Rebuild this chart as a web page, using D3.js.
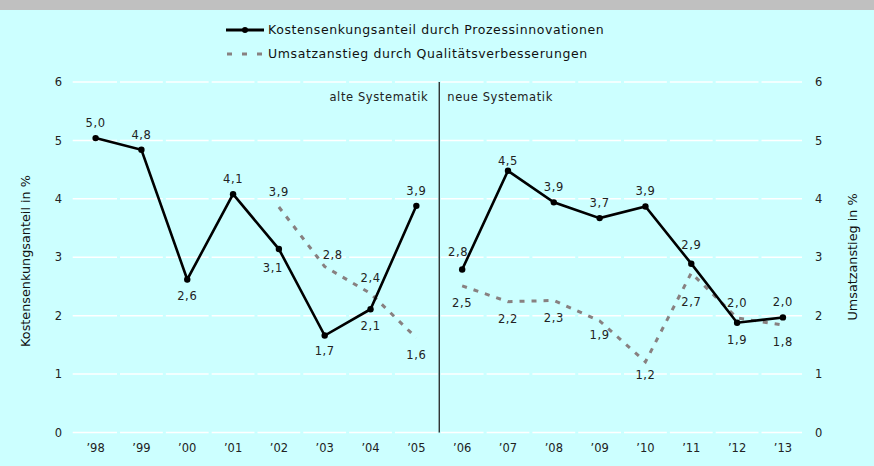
<!DOCTYPE html>
<html><head><meta charset="utf-8">
<script src="https://cdn.jsdelivr.net/npm/d3@7"></script>
<style>
body{margin:0;background:#CCFFFF;}
svg{display:block;font-family:"DejaVu Sans",Verdana,sans-serif;}
</style></head>
<body>
<svg id="chart" width="874" height="466"></svg>
<script>
const years = ["’98","’99","’00","’01","’02","’03","’04","’05","’06","’07","’08","’09","’10","’11","’12","’13"];
const kosten = [5.04,4.84,2.62,4.08,3.14,1.66,2.11,3.88,2.79,4.48,3.94,3.67,3.87,2.89,1.88,1.97];
const umsatz = [null,null,null,null,3.86,2.84,2.38,1.62,2.51,2.24,2.26,1.91,1.21,2.73,1.96,1.84];
const yTicks = [0,1,2,3,4,5,6];
const seriesNames = ["Kostensenkungsanteil durch Prozessinnovationen","Umsatzanstieg durch Qualitätsverbesserungen"];
const periodNames = ["alte Systematik","neue Systematik"];
const axisTitles = ["Kostensenkungsanteil in %","Umsatzanstieg in %"];

// label placement (a = above, b = below)
const kostenPos = ["a","a","b","a","b","b","b","a","a","a","a","a","a","a","b","a"];
const umsatzPos = [null,null,null,null,"a","a","a","b","b","b","b","b","b","b","a","b"];

const svg = d3.select("#chart");
svg.append("rect").attr("x",0).attr("y",0).attr("width",874).attr("height",466).attr("fill","#CCFFFF");
svg.append("rect").attr("x",0).attr("y",0).attr("width",874).attr("height",10).attr("fill","#C0C0C0");

const x = d3.scaleBand().domain(years).range([72.7, 72.7+16*45.82]).padding(0);
const cx = d => x(d) + x.bandwidth()/2;
const y = d3.scaleLinear().domain([0,6]).range([432.5, 82]);

// gridlines, segmented per category band
const g = svg.append("g");
yTicks.forEach(t => {
  years.forEach((yr,i) => {
    const x0 = x(yr) + (i===0 ? 0 : 1.5);
    const x1 = Math.min(x(yr) + x.bandwidth() - 1.5, 802);
    g.append("line").attr("x1",x0).attr("x2",x1).attr("y1",y(t)).attr("y2",y(t))
      .attr("stroke","#FFFFFF").attr("stroke-width",1.5);
  });
});

// axes
const tf = d3.format("d");
const yl = d3.axisLeft(y).tickValues(yTicks).tickFormat(tf).tickSize(0).tickPadding(0);
const gl = svg.append("g").attr("transform","translate(62,0)").call(yl);
gl.select(".domain").remove();
gl.selectAll("text").attr("font-size",11.5).attr("fill","#222").attr("font-family","DejaVu Sans");
const yr = d3.axisRight(y).tickValues(yTicks).tickFormat(tf).tickSize(0).tickPadding(0);
const gr = svg.append("g").attr("transform","translate(815,0)").call(yr);
gr.select(".domain").remove();
gr.selectAll("text").attr("font-size",11.5).attr("fill","#222").attr("font-family","DejaVu Sans");
const xa = d3.axisBottom(x).tickSize(0).tickPadding(0);
const gx = svg.append("g").attr("transform","translate(0,444)").call(xa);
gx.select(".domain").remove();
gx.selectAll("text").attr("font-size",11.5).attr("fill","#222").attr("font-family","DejaVu Sans").attr("dy","0.71em");

// axis titles
svg.append("text").attr("transform","translate(30,261) rotate(-90)").attr("text-anchor","middle")
  .attr("font-size",12.8).attr("fill","#111").text(axisTitles[0]);
svg.append("text").attr("transform","translate(857,257) rotate(-90)").attr("text-anchor","middle")
  .attr("font-size",12.8).attr("fill","#111").text(axisTitles[1]);

// separator
const sepX = (cx(years[7]) + cx(years[8]))/2;
svg.append("line").attr("x1",sepX).attr("x2",sepX).attr("y1",y(6)).attr("y2",y(0)).attr("stroke","#222").attr("stroke-width",1.3);
svg.append("text").attr("x",sepX-11).attr("y",101).attr("text-anchor","end").attr("font-size",11.5).attr("letter-spacing","0.6px").attr("fill","#222").text(periodNames[0]);
svg.append("text").attr("x",sepX+8).attr("y",101).attr("text-anchor","start").attr("font-size",11.5).attr("letter-spacing","0.6px").attr("fill","#222").text(periodNames[1]);

const fmt = v => d3.format(".1f")(v).replace(".",",");
const line = d3.line().x(d=>cx(d.yr)).y(d=>y(d.v));

// Umsatz dashed line (two segments: old / new methodology)
const uData = years.map((yrr,i)=>({yr:yrr,v:umsatz[i],p:umsatzPos[i],i:i})).filter(d=>d.v!==null);
[uData.filter(d=>d.i<8), uData.filter(d=>d.i>=8)].forEach(seg=>{
  svg.append("path").datum(seg).attr("d",line).attr("fill","none").attr("stroke","#888080")
    .attr("stroke-width",3).attr("stroke-dasharray","5,7");
});

// Kosten line
const kData = years.map((yrr,i)=>({yr:yrr,v:kosten[i],p:kostenPos[i]}));
[kData.slice(0,8), kData.slice(8)].forEach(seg=>{
  svg.append("path").datum(seg).attr("d",line).attr("fill","none").attr("stroke","#000")
    .attr("stroke-width",2.6).attr("stroke-linejoin","miter");
});
svg.selectAll("circle.k").data(kData).join("circle").attr("class","k")
  .attr("cx",d=>cx(d.yr)).attr("cy",d=>y(d.v)).attr("r",3.2).attr("fill","#000");

// labels
function addLabels(data, special){
  svg.selectAll(null).data(data).join("text")
    .attr("x",d=>cx(d.yr) + ((special[d.yr]||{}).dx||0))
    .attr("y",d=>y(d.v) + (d.p==="a" ? -15 : 17) + ((special[d.yr]||{}).dy||0))
    .attr("dy","0.35em").attr("text-anchor","middle").attr("font-size",11.5)
    .attr("letter-spacing","0.6px").attr("fill","#222").text(d=>fmt(d.v));
}
addLabels(kData, {"’02":{dx:-6,dy:2},"’06":{dx:-4,dy:-3},"’07":{dy:5},"’11":{dy:-4},"’03":{dy:-2}});
addLabels(uData, {"’03":{dx:8,dy:3},"’11":{dy:12},"’09":{dy:-3},"’10":{dy:-4}});

// legend
const lg = svg.append("g");
lg.append("line").attr("x1",226).attr("x2",264).attr("y1",30).attr("y2",30).attr("stroke","#000").attr("stroke-width",3);
lg.append("circle").attr("cx",245).attr("cy",30).attr("r",3).attr("fill","#000");
lg.append("text").attr("x",268).attr("y",30).attr("dy","0.35em").attr("font-size",12.5).attr("letter-spacing","0.6px").attr("fill","#111").text(seriesNames[0]);
lg.append("line").attr("x1",227).attr("x2",264).attr("y1",54).attr("y2",54).attr("stroke","#888080").attr("stroke-width",3).attr("stroke-dasharray","5,10");
lg.append("text").attr("x",268).attr("y",54).attr("dy","0.35em").attr("font-size",12.5).attr("letter-spacing","0.6px").attr("fill","#111").text(seriesNames[1]);
</script>
</body></html>
